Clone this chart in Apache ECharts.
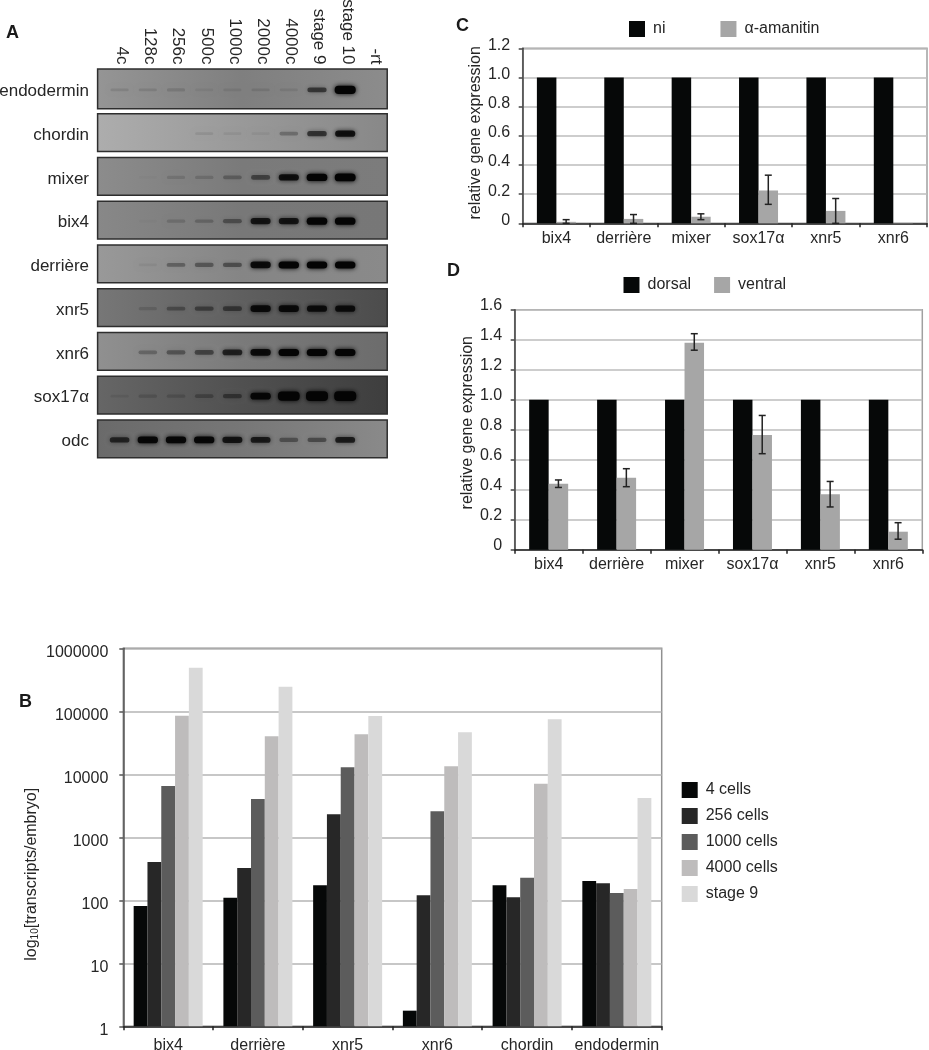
<!DOCTYPE html>
<html>
<head>
<meta charset="utf-8">
<style>html,body{margin:0;padding:0;background:#fff}#c{width:929px;height:1050px}</style>
<script src="https://cdn.jsdelivr.net/npm/echarts@6/dist/echarts.min.js"></script>
</head>
<body>
<div id="c"></div>
<script>
// ---- Panel A (gel) ----
const gelLanes = ['4c','128c','256c','500c','1000c','2000c','4000c','stage 9','stage 10','-rt'];
const gelGenes = ['endodermin','chordin','mixer','bix4','derrière','xnr5','xnr6','sox17α','odc'];
const gelEndodermin = [.1,.1,.12,.06,.08,.1,.08,.55,1.25,0];
const gelChordin    = [0,0,0,.08,.06,.05,.25,.6,.85,0];
const gelMixer      = [0,.02,.12,.15,.25,.45,.85,1.1,1.2,0];
const gelBix4       = [0,.02,.15,.2,.35,.8,.8,1.05,1.05,0];
const gelDerriere   = [0,.05,.3,.35,.4,.9,1,1,1,0];
const gelXnr5       = [0,.12,.3,.4,.45,.9,.9,.85,.85,0];
const gelXnr6       = [0,.25,.35,.45,.7,.9,1,1,1,0];
const gelSox17      = [.08,.15,.15,.25,.4,.95,1.5,1.6,1.6,0];
const gelOdc        = [.65,.95,.95,.95,.8,.75,.35,.4,.75,0];
const gelRows = [gelEndodermin,gelChordin,gelMixer,gelBix4,gelDerriere,gelXnr5,gelXnr6,gelSox17,gelOdc];

// ---- Panel C ----
const genesCD = ['bix4','derrière','mixer','sox17α','xnr5','xnr6'];
const niValues = [1,1,1,1,1,1];
const amanitinValues = [0.01,0.03,0.045,0.225,0.085,0.003];
const amanitinLow  = [0,0,0.025,0.13,0,0.003];
const amanitinHigh = [0.025,0.06,0.065,0.33,0.17,0.003];

// ---- Panel D ----
const dorsalValues = [1,1,1,1,1,1];
const ventralValues = [0.44,0.48,1.38,0.765,0.37,0.12];
const ventralLow  = [0.415,0.42,1.33,0.64,0.285,0.07];
const ventralHigh = [0.465,0.54,1.44,0.895,0.455,0.18];

// ---- Panel B ----
const genesB = ['bix4','derrière','xnr5','xnr6','chordin','endodermin'];
const cells4 = [81,110,173,1.77,173,203];
const cells256 = [406,326,2320,120,112,186];
const cells1000 = [6530,4060,12900,2590,229,131];
const cells4000 = [85300,40100,43100,13400,7110,151];
const stage9 = [493000,246000,84300,46400,74600,4210];

// ---- Styles ----
const FONT = '"Liberation Sans", Arial, sans-serif';
const TXT = '#262626';
const panelShades = [
  ['#959595','#7f7f7f','#8c8c8c'],['#adadad','#999999','#888888'],['#8c8c8c','#7a7a7a','#7c7c7c'],
  ['#888888','#787878','#777777'],['#999999','#858585','#8a8a8a'],['#777777','#5f5f5f','#4c4c4c'],
  ['#909090','#7a7a7a','#6c6c6c'],['#666666','#505050','#3e3e3e'],['#6a6a6a','#777777','#8a8a8a']
];
const barW = 19.5;

function errorSeries(xi, yi, low, high) {
  return {
    type: 'custom', xAxisIndex: xi, yAxisIndex: yi, z: 5, silent: true,
    data: low.map((v, i) => [i, v, high[i]]),
    encode: {x: 0, y: [1, 2]},
    renderItem(p, api) {
      const a = api.coord([api.value(0), api.value(1)]);
      const b = api.coord([api.value(0), api.value(2)]);
      const x = a[0] + barW / 2, c = 3.5;
      if (api.value(1) === api.value(2)) return {type: 'group', children: []};
      const s = {stroke: '#222', lineWidth: 1.5, fill: null};
      return {type: 'group', children: [
        {type: 'line', shape: {x1: x, y1: a[1], x2: x, y2: b[1]}, style: s},
        {type: 'line', shape: {x1: x - c, y1: a[1], x2: x + c, y2: a[1]}, style: s},
        {type: 'line', shape: {x1: x - c, y1: b[1], x2: x + c, y2: b[1]}, style: s}
      ]};
    }
  };
}
function catAxis(idx, cats, margin) {
  return {type: 'category', gridIndex: idx, data: cats,
    axisLine: {lineStyle: {color: '#222', width: 1.5}},
    axisTick: {show: true, length: 4, lineStyle: {color: '#222', width: 1.5}},
    axisLabel: {color: TXT, fontFamily: FONT, fontSize: 16, margin, interval: 0, hideOverlap: false}};
}
function valAxis(idx, max, step, name, pad, gap, lift) {
  return {type: 'value', gridIndex: idx, min: 0, max, interval: step,
    name, nameLocation: 'middle', nameGap: gap,
    nameTextStyle: {color: TXT, fontFamily: FONT, fontSize: 16, padding: pad},
    axisLine: {show: true, lineStyle: {color: '#444', width: 1.5}},
    axisTick: {show: true, length: 4, lineStyle: {color: '#444', width: 1.5}},
    axisLabel: {color: TXT, fontFamily: FONT, fontSize: 16, margin: 12.5, verticalAlign: 'bottom', padding: [0, 0, lift, 0],
      formatter: v => v === 0 ? '0' : v.toFixed(1)},
    splitLine: {show: true, lineStyle: {color: '#bcbcbc', width: 1.5}}};
}
function bar(name, xi, yi, data, color, w) {
  return {type: 'bar', name, xAxisIndex: xi, yAxisIndex: yi, data, barWidth: w, barGap: 0,
    itemStyle: {color}, silent: true};
}
function legendOf(names, left, top, gap, extra) {
  return Object.assign({data: names, left, top, itemWidth: 16, itemHeight: 16, itemGap: gap,
    icon: 'rect', selectedMode: false,
    textStyle: {color: TXT, fontFamily: FONT, fontSize: 16, padding: [0, 0, 0, 3]}}, extra || {});
}
function letter(t, x, y) {
  return {type: 'text', x, y, style: {text: t, fill: '#1a1a1a', font: 'bold 18px ' + FONT,
    textVerticalAlign: 'middle'}};
}

const cellData = [];
gelRows.forEach((row, r) => row.forEach((v, l) => { if (v > 0) cellData.push([l, r, v]); }));

const option = {
  animation: false,
  backgroundColor: '#fff',
  textStyle: {fontFamily: FONT},
  grid: [
    {left: 105.5, top: 67, width: 282, height: 393.75, outerBoundsMode: 'none'},
    {left: 522.7, top: 48.3, width: 404.3, height: 175, show: true, borderColor: '#a0a0a0', borderWidth: 1.5, backgroundColor: 'transparent', outerBoundsMode: 'none'},
    {left: 514.7, top: 309.7, width: 407.6, height: 240, show: true, borderColor: '#a0a0a0', borderWidth: 1.5, backgroundColor: 'transparent', outerBoundsMode: 'none'},
    {left: 123.3, top: 648.3, width: 538.4, height: 378, show: true, borderColor: '#909090', borderWidth: 1.5, backgroundColor: 'transparent', outerBoundsMode: 'none'}
  ],
  legend: [
    legendOf(['ni', 'α-amanitin'], 624, 16, 55),
    legendOf(['dorsal', 'ventral'], 618.5, 272, 23),
    legendOf(['4 cells', '256 cells', '1000 cells', '4000 cells', 'stage 9'], 676.7, 777, 10, {orient: 'vertical'})
  ],
  xAxis: [
    {type: 'category', gridIndex: 0, position: 'top', data: gelLanes,
      axisLine: {show: false}, axisTick: {show: false},
      axisLabel: {color: TXT, fontFamily: FONT, fontSize: 17, rotate: 90, margin: 2.5, interval: 0, hideOverlap: false,
        verticalAlign: 'bottom', padding: [0, 0, -6.5, 0]}},
    catAxis(1, genesCD, 7),
    catAxis(2, genesCD, 7),
    catAxis(3, genesB, 11)
  ],
  yAxis: [
    {type: 'category', gridIndex: 0, inverse: true, data: gelGenes,
      axisLine: {show: false}, axisTick: {show: false},
      axisLabel: {color: TXT, fontFamily: FONT, fontSize: 17, margin: 16.5, interval: 0, verticalAlign: 'top', padding: [-6, 0, 0, 0]}},
    valAxis(1, 1.2, 0.2, 'relative gene expression', [0, 0, 0, 6], 37.7, -5),
    valAxis(2, 1.6, 0.2, 'relative gene expression', [0, 0, 0, 14], 39, -4),
    {type: 'log', gridIndex: 3, logBase: 10, min: 1, max: 1000000,
      name: 'log{s|10}[transcripts/embryo]', nameLocation: 'middle', nameGap: 83, nameMoveOverlap: false,
      nameTextStyle: {color: TXT, fontFamily: FONT, fontSize: 16, padding: [0, 74, 0, 0],
        rich: {s: {fontSize: 10, fontFamily: FONT, color: TXT, verticalAlign: 'bottom', padding: [8, 0, 0, 0]}}},
      axisLine: {show: true, lineStyle: {color: '#555', width: 1.5}},
      axisTick: {show: true, length: 4, lineStyle: {color: '#555', width: 1.5}},
      axisLabel: {color: TXT, fontFamily: FONT, fontSize: 16, margin: 15, verticalAlign: 'top', padding: [-4, 0, 0, 0],
        formatter: v => String(Math.round(v))},
      splitLine: {show: true, lineStyle: {color: '#b4b4b4', width: 1.5}}}
  ],
  series: [
    {type: 'custom', xAxisIndex: 0, yAxisIndex: 0, z: 1, silent: true,
      data: gelGenes.map((g, i) => [i]),
      encode: {x: 0, y: 0},
      renderItem(p, api) {
        const r = api.value(0);
        const bw = api.size([1, 0])[0], bh = api.size([0, 1])[1];
        const c0 = api.coord([0, r]), c9 = api.coord([9, r]);
        const x0 = c0[0] - 0.78 * bw, x1 = c9[0] + 0.49 * bw, h = bh * (r === 0 ? 0.91 : 0.86);
        const sh = panelShades[r];
        return {type: 'rect',
          shape: {x: x0, y: c0[1] - h / 2, width: x1 - x0, height: h},
          style: {stroke: '#2e2e2e', lineWidth: 1.5,
            fill: {type: 'linear', x: 0, y: 0, x2: 1, y2: 0, colorStops: [
              {offset: 0, color: sh[0]}, {offset: 0.5, color: sh[1]}, {offset: 1, color: sh[2]}]}}};
      }},
    {type: 'custom', xAxisIndex: 0, yAxisIndex: 0, z: 2, silent: true,
      data: cellData,
      encode: {x: 0, y: 1},
      renderItem(p, api) {
        const c = api.coord([api.value(0), api.value(1)]);
        const v = api.value(2);
        const a = Math.min(1, v);
        const w = 18 + Math.min(v, 1.6) * 2.5, h = 2.5 + Math.min(v, 1.6) * 4.5;
        return {type: 'rect',
          shape: {x: c[0] - w / 2, y: c[1] + 1 - h / 2, width: w, height: h, r: Math.min(h / 2, 4)},
          style: {fill: 'rgba(4,4,4,' + a + ')', shadowBlur: 5, shadowColor: 'rgba(4,4,4,' + a + ')'}};
      }},
    bar('ni', 1, 1, niValues, '#060808', barW),
    bar('α-amanitin', 1, 1, amanitinValues, '#a6a6a6', barW),
    errorSeries(1, 1, amanitinLow, amanitinHigh),
    bar('dorsal', 2, 2, dorsalValues, '#060808', barW),
    bar('ventral', 2, 2, ventralValues, '#a6a6a6', barW),
    errorSeries(2, 2, ventralLow, ventralHigh),
    bar('4 cells', 3, 3, cells4, '#060808', 13.8),
    bar('256 cells', 3, 3, cells256, '#272727', 13.8),
    bar('1000 cells', 3, 3, cells1000, '#5c5c5c', 13.8),
    bar('4000 cells', 3, 3, cells4000, '#bebcbc', 13.8),
    bar('stage 9', 3, 3, stage9, '#d9d9d9', 13.8)
  ],
  graphic: [letter('A', 6, 33), letter('C', 456, 25.6), letter('D', 447, 271), letter('B', 19, 701.7)]
};
const chart = echarts.init(document.getElementById('c'), null, {renderer: 'canvas'});
chart.setOption(option);
</script>
</body>
</html>
